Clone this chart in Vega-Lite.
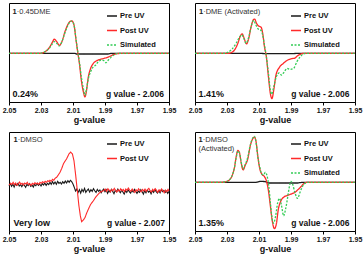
{
"$schema":"https://vega.github.io/schema/vega-lite/v6.json",
"padding":{"left":1,"top":2,"right":0,"bottom":0},
"background":"white",
"config":{"font":"Liberation Sans","view":{"stroke":"#000","strokeWidth":1},
"axisX":{"format":".2f","labelFontSize":7,"labelFontWeight":"bold","labelColor":"#111","tickSize":3,"tickColor":"#000","domainColor":"#000","grid":false,"labelPadding":1.5,"labelOverlap":false,"labelFlush":false,"labelBound":false,"titleFontSize":9,"titleFontWeight":"bold","titleColor":"#111","titlePadding":2},
"legend":{"symbolType":"stroke","symbolSize":100,"symbolStrokeWidth":1.4,"labelFontSize":7.5,"labelFontWeight":"bold","labelColor":"#111","rowPadding":4.5,"padding":0,"labelOffset":2}},
"datasets":{"spectra":[
{"p":1,"s":"Pre UV","g":2.05,"v":0},{"p":1,"s":"Pre UV","g":2.0094,"v":0},{"p":1,"s":"Pre UV","g":2.0073,"v":-2},{"p":1,"s":"Pre UV","g":1.9885,"v":-2},{"p":1,"s":"Pre UV","g":1.9854,"v":0},{"p":1,"s":"Pre UV","g":1.95,"v":0},
{"p":1,"s":"Post UV","g":2.05,"v":0},{"p":1,"s":"Post UV","g":2.039,"v":0},{"p":1,"s":"Post UV","g":2.0306,"v":0},{"p":1,"s":"Post UV","g":2.0285,"v":2},{"p":1,"s":"Post UV","g":2.0265,"v":8},{"p":1,"s":"Post UV","g":2.0244,"v":20},{"p":1,"s":"Post UV","g":2.0229,"v":33},{"p":1,"s":"Post UV","g":2.0217,"v":42},{"p":1,"s":"Post UV","g":2.0202,"v":35},{"p":1,"s":"Post UV","g":2.0185,"v":24},{"p":1,"s":"Post UV","g":2.0169,"v":35},{"p":1,"s":"Post UV","g":2.015,"v":65},{"p":1,"s":"Post UV","g":2.0133,"v":85},{"p":1,"s":"Post UV","g":2.0119,"v":95},{"p":1,"s":"Post UV","g":2.0108,"v":97},{"p":1,"s":"Post UV","g":2.0094,"v":85},{"p":1,"s":"Post UV","g":2.0081,"v":40},{"p":1,"s":"Post UV","g":2.0071,"v":5},{"p":1,"s":"Post UV","g":2.006,"v":-30},{"p":1,"s":"Post UV","g":2.0048,"v":-80},{"p":1,"s":"Post UV","g":2.0035,"v":-115},{"p":1,"s":"Post UV","g":2.0025,"v":-130},{"p":1,"s":"Post UV","g":2.0017,"v":-115},{"p":1,"s":"Post UV","g":2.0004,"v":-70},{"p":1,"s":"Post UV","g":1.999,"v":-45},{"p":1,"s":"Post UV","g":1.9973,"v":-30},{"p":1,"s":"Post UV","g":1.9952,"v":-22},{"p":1,"s":"Post UV","g":1.9931,"v":-18},{"p":1,"s":"Post UV","g":1.9906,"v":-15},{"p":1,"s":"Post UV","g":1.9885,"v":-12},{"p":1,"s":"Post UV","g":1.9865,"v":-8},{"p":1,"s":"Post UV","g":1.9844,"v":-3},{"p":1,"s":"Post UV","g":1.9823,"v":-1},{"p":1,"s":"Post UV","g":1.9785,"v":0},{"p":1,"s":"Post UV","g":1.95,"v":0},
{"p":1,"s":"Simulated","g":2.05,"v":0},{"p":1,"s":"Simulated","g":2.0306,"v":0},{"p":1,"s":"Simulated","g":2.0285,"v":3},{"p":1,"s":"Simulated","g":2.0265,"v":8},{"p":1,"s":"Simulated","g":2.0244,"v":18},{"p":1,"s":"Simulated","g":2.0229,"v":28},{"p":1,"s":"Simulated","g":2.0217,"v":35},{"p":1,"s":"Simulated","g":2.0202,"v":30},{"p":1,"s":"Simulated","g":2.0185,"v":22},{"p":1,"s":"Simulated","g":2.0169,"v":35},{"p":1,"s":"Simulated","g":2.015,"v":62},{"p":1,"s":"Simulated","g":2.0133,"v":82},{"p":1,"s":"Simulated","g":2.0119,"v":94},{"p":1,"s":"Simulated","g":2.0108,"v":96},{"p":1,"s":"Simulated","g":2.0094,"v":85},{"p":1,"s":"Simulated","g":2.0081,"v":42},{"p":1,"s":"Simulated","g":2.0071,"v":8},{"p":1,"s":"Simulated","g":2.006,"v":-25},{"p":1,"s":"Simulated","g":2.0048,"v":-70},{"p":1,"s":"Simulated","g":2.0035,"v":-105},{"p":1,"s":"Simulated","g":2.0025,"v":-125},{"p":1,"s":"Simulated","g":2.0017,"v":-110},{"p":1,"s":"Simulated","g":2.0004,"v":-75},{"p":1,"s":"Simulated","g":1.999,"v":-55},{"p":1,"s":"Simulated","g":1.9973,"v":-40},{"p":1,"s":"Simulated","g":1.9958,"v":-35},{"p":1,"s":"Simulated","g":1.9942,"v":-25},{"p":1,"s":"Simulated","g":1.9921,"v":-20},{"p":1,"s":"Simulated","g":1.9906,"v":-22},{"p":1,"s":"Simulated","g":1.9894,"v":-28},{"p":1,"s":"Simulated","g":1.9879,"v":-20},{"p":1,"s":"Simulated","g":1.9858,"v":-10},{"p":1,"s":"Simulated","g":1.9838,"v":-3},{"p":1,"s":"Simulated","g":1.9817,"v":0},{"p":1,"s":"Simulated","g":1.95,"v":0},

{"p":2,"s":"Pre UV","g":2.05,"v":0},{"p":2,"s":"Pre UV","g":2.01,"v":0},{"p":2,"s":"Pre UV","g":2.005,"v":-1},{"p":2,"s":"Pre UV","g":1.99,"v":-1},{"p":2,"s":"Pre UV","g":1.985,"v":0},{"p":2,"s":"Pre UV","g":1.95,"v":0},
{"p":2,"s":"Post UV","g":2.05,"v":0},{"p":2,"s":"Post UV","g":2.0295,"v":0},{"p":2,"s":"Post UV","g":2.0274,"v":2},{"p":2,"s":"Post UV","g":2.0253,"v":10},{"p":2,"s":"Post UV","g":2.0232,"v":30},{"p":2,"s":"Post UV","g":2.0218,"v":50},{"p":2,"s":"Post UV","g":2.0205,"v":58},{"p":2,"s":"Post UV","g":2.0193,"v":45},{"p":2,"s":"Post UV","g":2.0178,"v":28},{"p":2,"s":"Post UV","g":2.0164,"v":45},{"p":2,"s":"Post UV","g":2.0149,"v":80},{"p":2,"s":"Post UV","g":2.0135,"v":100},{"p":2,"s":"Post UV","g":2.0127,"v":102},{"p":2,"s":"Post UV","g":2.0116,"v":90},{"p":2,"s":"Post UV","g":2.0104,"v":82},{"p":2,"s":"Post UV","g":2.0087,"v":78},{"p":2,"s":"Post UV","g":2.0077,"v":60},{"p":2,"s":"Post UV","g":2.0066,"v":20},{"p":2,"s":"Post UV","g":2.0054,"v":-10},{"p":2,"s":"Post UV","g":2.0041,"v":-70},{"p":2,"s":"Post UV","g":2.0029,"v":-120},{"p":2,"s":"Post UV","g":2.0019,"v":-135},{"p":2,"s":"Post UV","g":2.0008,"v":-110},{"p":2,"s":"Post UV","g":1.9994,"v":-65},{"p":2,"s":"Post UV","g":1.9973,"v":-42},{"p":2,"s":"Post UV","g":1.9948,"v":-30},{"p":2,"s":"Post UV","g":1.9921,"v":-20},{"p":2,"s":"Post UV","g":1.9896,"v":-16},{"p":2,"s":"Post UV","g":1.9876,"v":-14},{"p":2,"s":"Post UV","g":1.9859,"v":-7},{"p":2,"s":"Post UV","g":1.9838,"v":-2},{"p":2,"s":"Post UV","g":1.9817,"v":0},{"p":2,"s":"Post UV","g":1.95,"v":0},
{"p":2,"s":"Simulated","g":2.05,"v":0},{"p":2,"s":"Simulated","g":2.0315,"v":0},{"p":2,"s":"Simulated","g":2.0295,"v":3},{"p":2,"s":"Simulated","g":2.027,"v":12},{"p":2,"s":"Simulated","g":2.0243,"v":30},{"p":2,"s":"Simulated","g":2.0222,"v":48},{"p":2,"s":"Simulated","g":2.0207,"v":55},{"p":2,"s":"Simulated","g":2.0195,"v":45},{"p":2,"s":"Simulated","g":2.0181,"v":30},{"p":2,"s":"Simulated","g":2.0166,"v":45},{"p":2,"s":"Simulated","g":2.0149,"v":80},{"p":2,"s":"Simulated","g":2.0133,"v":98},{"p":2,"s":"Simulated","g":2.012,"v":85},{"p":2,"s":"Simulated","g":2.0104,"v":72},{"p":2,"s":"Simulated","g":2.0087,"v":68},{"p":2,"s":"Simulated","g":2.0077,"v":55},{"p":2,"s":"Simulated","g":2.0066,"v":25},{"p":2,"s":"Simulated","g":2.0054,"v":-10},{"p":2,"s":"Simulated","g":2.0041,"v":-60},{"p":2,"s":"Simulated","g":2.0029,"v":-110},{"p":2,"s":"Simulated","g":2.0021,"v":-122},{"p":2,"s":"Simulated","g":2.0008,"v":-100},{"p":2,"s":"Simulated","g":1.9992,"v":-70},{"p":2,"s":"Simulated","g":1.9973,"v":-58},{"p":2,"s":"Simulated","g":1.9959,"v":-65},{"p":2,"s":"Simulated","g":1.9942,"v":-55},{"p":2,"s":"Simulated","g":1.9925,"v":-45},{"p":2,"s":"Simulated","g":1.9905,"v":-48},{"p":2,"s":"Simulated","g":1.9884,"v":-45},{"p":2,"s":"Simulated","g":1.9863,"v":-25},{"p":2,"s":"Simulated","g":1.9842,"v":-10},{"p":2,"s":"Simulated","g":1.9822,"v":-2},{"p":2,"s":"Simulated","g":1.9801,"v":0},{"p":2,"s":"Simulated","g":1.95,"v":0},

{"p":3,"s":"Pre UV","g":2.05,"v":-10},{"p":3,"s":"Pre UV","g":2.0492,"v":-4},{"p":3,"s":"Pre UV","g":2.0484,"v":-12},{"p":3,"s":"Pre UV","g":2.0476,"v":-6},{"p":3,"s":"Pre UV","g":2.0468,"v":-14},{"p":3,"s":"Pre UV","g":2.046,"v":-5},{"p":3,"s":"Pre UV","g":2.0452,"v":-9},{"p":3,"s":"Pre UV","g":2.0444,"v":-3},{"p":3,"s":"Pre UV","g":2.0436,"v":-11},{"p":3,"s":"Pre UV","g":2.0428,"v":-7},{"p":3,"s":"Pre UV","g":2.042,"v":-13},{"p":3,"s":"Pre UV","g":2.0412,"v":-5},{"p":3,"s":"Pre UV","g":2.0404,"v":-9},{"p":3,"s":"Pre UV","g":2.0396,"v":-15},{"p":3,"s":"Pre UV","g":2.0388,"v":-6},{"p":3,"s":"Pre UV","g":2.038,"v":-10},{"p":3,"s":"Pre UV","g":2.0372,"v":-4},{"p":3,"s":"Pre UV","g":2.0364,"v":-12},{"p":3,"s":"Pre UV","g":2.0356,"v":-8},{"p":3,"s":"Pre UV","g":2.0348,"v":-14},{"p":3,"s":"Pre UV","g":2.034,"v":-6},{"p":3,"s":"Pre UV","g":2.0332,"v":-10},{"p":3,"s":"Pre UV","g":2.0324,"v":-3},{"p":3,"s":"Pre UV","g":2.0316,"v":-9},{"p":3,"s":"Pre UV","g":2.0308,"v":-5},{"p":3,"s":"Pre UV","g":2.03,"v":-11},{"p":3,"s":"Pre UV","g":2.0292,"v":-4},{"p":3,"s":"Pre UV","g":2.0284,"v":-8},{"p":3,"s":"Pre UV","g":2.0276,"v":-2},{"p":3,"s":"Pre UV","g":2.0268,"v":-9},{"p":3,"s":"Pre UV","g":2.026,"v":-3},{"p":3,"s":"Pre UV","g":2.0252,"v":-7},{"p":3,"s":"Pre UV","g":2.0244,"v":0},{"p":3,"s":"Pre UV","g":2.0236,"v":-6},{"p":3,"s":"Pre UV","g":2.0228,"v":2},{"p":3,"s":"Pre UV","g":2.022,"v":-5},{"p":3,"s":"Pre UV","g":2.0212,"v":1},{"p":3,"s":"Pre UV","g":2.0204,"v":-6},{"p":3,"s":"Pre UV","g":2.0196,"v":3},{"p":3,"s":"Pre UV","g":2.0188,"v":-3},{"p":3,"s":"Pre UV","g":2.018,"v":0},{"p":3,"s":"Pre UV","g":2.0172,"v":-5},{"p":3,"s":"Pre UV","g":2.0164,"v":2},{"p":3,"s":"Pre UV","g":2.0156,"v":-3},{"p":3,"s":"Pre UV","g":2.0148,"v":4},{"p":3,"s":"Pre UV","g":2.014,"v":-2},{"p":3,"s":"Pre UV","g":2.0132,"v":5},{"p":3,"s":"Pre UV","g":2.0124,"v":0},{"p":3,"s":"Pre UV","g":2.0116,"v":6},{"p":3,"s":"Pre UV","g":2.0108,"v":2},{"p":3,"s":"Pre UV","g":2.01,"v":-5},{"p":3,"s":"Pre UV","g":2.0092,"v":-15},{"p":3,"s":"Pre UV","g":2.0084,"v":-26},{"p":3,"s":"Pre UV","g":2.0076,"v":-20},{"p":3,"s":"Pre UV","g":2.0068,"v":-30},{"p":3,"s":"Pre UV","g":2.006,"v":-22},{"p":3,"s":"Pre UV","g":2.0052,"v":-32},{"p":3,"s":"Pre UV","g":2.0044,"v":-21},{"p":3,"s":"Pre UV","g":2.0036,"v":-28},{"p":3,"s":"Pre UV","g":2.0028,"v":-18},{"p":3,"s":"Pre UV","g":2.002,"v":-30},{"p":3,"s":"Pre UV","g":2.0012,"v":-24},{"p":3,"s":"Pre UV","g":2.0004,"v":-20},{"p":3,"s":"Pre UV","g":1.9996,"v":-29},{"p":3,"s":"Pre UV","g":1.9988,"v":-22},{"p":3,"s":"Pre UV","g":1.998,"v":-27},{"p":3,"s":"Pre UV","g":1.9972,"v":-19},{"p":3,"s":"Pre UV","g":1.9964,"v":-25},{"p":3,"s":"Pre UV","g":1.9956,"v":-30},{"p":3,"s":"Pre UV","g":1.9948,"v":-21},{"p":3,"s":"Pre UV","g":1.994,"v":-27},{"p":3,"s":"Pre UV","g":1.9932,"v":-23},{"p":3,"s":"Pre UV","g":1.9924,"v":-31},{"p":3,"s":"Pre UV","g":1.9916,"v":-24},{"p":3,"s":"Pre UV","g":1.9908,"v":-20},{"p":3,"s":"Pre UV","g":1.99,"v":-28},{"p":3,"s":"Pre UV","g":1.9892,"v":-22},{"p":3,"s":"Pre UV","g":1.9884,"v":-33},{"p":3,"s":"Pre UV","g":1.9876,"v":-25},{"p":3,"s":"Pre UV","g":1.9868,"v":-29},{"p":3,"s":"Pre UV","g":1.986,"v":-21},{"p":3,"s":"Pre UV","g":1.9852,"v":-27},{"p":3,"s":"Pre UV","g":1.9844,"v":-34},{"p":3,"s":"Pre UV","g":1.9836,"v":-24},{"p":3,"s":"Pre UV","g":1.9828,"v":-28},{"p":3,"s":"Pre UV","g":1.982,"v":-20},{"p":3,"s":"Pre UV","g":1.9812,"v":-26},{"p":3,"s":"Pre UV","g":1.9804,"v":-31},{"p":3,"s":"Pre UV","g":1.9796,"v":-23},{"p":3,"s":"Pre UV","g":1.9788,"v":-29},{"p":3,"s":"Pre UV","g":1.978,"v":-35},{"p":3,"s":"Pre UV","g":1.9772,"v":-25},{"p":3,"s":"Pre UV","g":1.9764,"v":-30},{"p":3,"s":"Pre UV","g":1.9756,"v":-22},{"p":3,"s":"Pre UV","g":1.9748,"v":-28},{"p":3,"s":"Pre UV","g":1.974,"v":-32},{"p":3,"s":"Pre UV","g":1.9732,"v":-24},{"p":3,"s":"Pre UV","g":1.9724,"v":-29},{"p":3,"s":"Pre UV","g":1.9716,"v":-21},{"p":3,"s":"Pre UV","g":1.9708,"v":-27},{"p":3,"s":"Pre UV","g":1.97,"v":-33},{"p":3,"s":"Pre UV","g":1.9692,"v":-26},{"p":3,"s":"Pre UV","g":1.9684,"v":-30},{"p":3,"s":"Pre UV","g":1.9676,"v":-22},{"p":3,"s":"Pre UV","g":1.9668,"v":-28},{"p":3,"s":"Pre UV","g":1.966,"v":-35},{"p":3,"s":"Pre UV","g":1.9652,"v":-25},{"p":3,"s":"Pre UV","g":1.9644,"v":-31},{"p":3,"s":"Pre UV","g":1.9636,"v":-23},{"p":3,"s":"Pre UV","g":1.9628,"v":-29},{"p":3,"s":"Pre UV","g":1.962,"v":-26},{"p":3,"s":"Pre UV","g":1.9612,"v":-34},{"p":3,"s":"Pre UV","g":1.9604,"v":-24},{"p":3,"s":"Pre UV","g":1.9596,"v":-30},{"p":3,"s":"Pre UV","g":1.9588,"v":-22},{"p":3,"s":"Pre UV","g":1.958,"v":-28},{"p":3,"s":"Pre UV","g":1.9572,"v":-32},{"p":3,"s":"Pre UV","g":1.9564,"v":-25},{"p":3,"s":"Pre UV","g":1.9556,"v":-31},{"p":3,"s":"Pre UV","g":1.9548,"v":-22},{"p":3,"s":"Pre UV","g":1.954,"v":-28},{"p":3,"s":"Pre UV","g":1.9532,"v":-24},{"p":3,"s":"Pre UV","g":1.9524,"v":-30},{"p":3,"s":"Pre UV","g":1.9516,"v":-26},{"p":3,"s":"Pre UV","g":1.9508,"v":-33},{"p":3,"s":"Pre UV","g":1.95,"v":-27},
{"p":3,"s":"Post UV","g":2.05,"v":-8},{"p":3,"s":"Post UV","g":2.049,"v":-3},{"p":3,"s":"Post UV","g":2.0482,"v":-6},{"p":3,"s":"Post UV","g":2.0474,"v":0},{"p":3,"s":"Post UV","g":2.0466,"v":-7},{"p":3,"s":"Post UV","g":2.0458,"v":-2},{"p":3,"s":"Post UV","g":2.045,"v":-9},{"p":3,"s":"Post UV","g":2.0442,"v":-4},{"p":3,"s":"Post UV","g":2.0434,"v":1},{"p":3,"s":"Post UV","g":2.0426,"v":-6},{"p":3,"s":"Post UV","g":2.0418,"v":-3},{"p":3,"s":"Post UV","g":2.041,"v":-8},{"p":3,"s":"Post UV","g":2.0402,"v":-2},{"p":3,"s":"Post UV","g":2.0394,"v":-5},{"p":3,"s":"Post UV","g":2.0386,"v":0},{"p":3,"s":"Post UV","g":2.0378,"v":-7},{"p":3,"s":"Post UV","g":2.037,"v":-4},{"p":3,"s":"Post UV","g":2.0362,"v":-9},{"p":3,"s":"Post UV","g":2.0354,"v":-3},{"p":3,"s":"Post UV","g":2.0346,"v":-6},{"p":3,"s":"Post UV","g":2.0338,"v":-1},{"p":3,"s":"Post UV","g":2.033,"v":-5},{"p":3,"s":"Post UV","g":2.0322,"v":-2},{"p":3,"s":"Post UV","g":2.0314,"v":-6},{"p":3,"s":"Post UV","g":2.0306,"v":0},{"p":3,"s":"Post UV","g":2.0298,"v":-3},{"p":3,"s":"Post UV","g":2.029,"v":2},{"p":3,"s":"Post UV","g":2.0282,"v":-1},{"p":3,"s":"Post UV","g":2.0274,"v":3},{"p":3,"s":"Post UV","g":2.0266,"v":0},{"p":3,"s":"Post UV","g":2.0258,"v":5},{"p":3,"s":"Post UV","g":2.025,"v":2},{"p":3,"s":"Post UV","g":2.0244,"v":6},{"p":3,"s":"Post UV","g":2.0236,"v":3},{"p":3,"s":"Post UV","g":2.0228,"v":9},{"p":3,"s":"Post UV","g":2.022,"v":6},{"p":3,"s":"Post UV","g":2.0212,"v":12},{"p":3,"s":"Post UV","g":2.0202,"v":15},{"p":3,"s":"Post UV","g":2.0192,"v":22},{"p":3,"s":"Post UV","g":2.0181,"v":30},{"p":3,"s":"Post UV","g":2.017,"v":42},{"p":3,"s":"Post UV","g":2.016,"v":55},{"p":3,"s":"Post UV","g":2.015,"v":63},{"p":3,"s":"Post UV","g":2.014,"v":70},{"p":3,"s":"Post UV","g":2.0132,"v":78},{"p":3,"s":"Post UV","g":2.0125,"v":85},{"p":3,"s":"Post UV","g":2.0115,"v":90},{"p":3,"s":"Post UV","g":2.0104,"v":85},{"p":3,"s":"Post UV","g":2.0094,"v":65},{"p":3,"s":"Post UV","g":2.0083,"v":20},{"p":3,"s":"Post UV","g":2.0073,"v":-25},{"p":3,"s":"Post UV","g":2.0063,"v":-70},{"p":3,"s":"Post UV","g":2.0054,"v":-100},{"p":3,"s":"Post UV","g":2.0046,"v":-117},{"p":3,"s":"Post UV","g":2.0035,"v":-112},{"p":3,"s":"Post UV","g":2.0025,"v":-105},{"p":3,"s":"Post UV","g":2.0015,"v":-92},{"p":3,"s":"Post UV","g":2.0004,"v":-80},{"p":3,"s":"Post UV","g":1.999,"v":-66},{"p":3,"s":"Post UV","g":1.9973,"v":-55},{"p":3,"s":"Post UV","g":1.9958,"v":-44},{"p":3,"s":"Post UV","g":1.9942,"v":-35},{"p":3,"s":"Post UV","g":1.9926,"v":-28},{"p":3,"s":"Post UV","g":1.991,"v":-25},{"p":3,"s":"Post UV","g":1.9898,"v":-20},{"p":3,"s":"Post UV","g":1.989,"v":-27},{"p":3,"s":"Post UV","g":1.9882,"v":-19},{"p":3,"s":"Post UV","g":1.9874,"v":-23},{"p":3,"s":"Post UV","g":1.9866,"v":-28},{"p":3,"s":"Post UV","g":1.9858,"v":-21},{"p":3,"s":"Post UV","g":1.985,"v":-25},{"p":3,"s":"Post UV","g":1.9842,"v":-18},{"p":3,"s":"Post UV","g":1.9834,"v":-24},{"p":3,"s":"Post UV","g":1.9826,"v":-29},{"p":3,"s":"Post UV","g":1.9818,"v":-22},{"p":3,"s":"Post UV","g":1.981,"v":-26},{"p":3,"s":"Post UV","g":1.9802,"v":-19},{"p":3,"s":"Post UV","g":1.9794,"v":-25},{"p":3,"s":"Post UV","g":1.9786,"v":-21},{"p":3,"s":"Post UV","g":1.9778,"v":-28},{"p":3,"s":"Post UV","g":1.977,"v":-20},{"p":3,"s":"Post UV","g":1.9762,"v":-24},{"p":3,"s":"Post UV","g":1.9754,"v":-17},{"p":3,"s":"Post UV","g":1.9746,"v":-23},{"p":3,"s":"Post UV","g":1.9738,"v":-27},{"p":3,"s":"Post UV","g":1.973,"v":-20},{"p":3,"s":"Post UV","g":1.9722,"v":-25},{"p":3,"s":"Post UV","g":1.9714,"v":-30},{"p":3,"s":"Post UV","g":1.9706,"v":-22},{"p":3,"s":"Post UV","g":1.9698,"v":-26},{"p":3,"s":"Post UV","g":1.969,"v":-19},{"p":3,"s":"Post UV","g":1.9682,"v":-24},{"p":3,"s":"Post UV","g":1.9674,"v":-28},{"p":3,"s":"Post UV","g":1.9666,"v":-21},{"p":3,"s":"Post UV","g":1.9658,"v":-26},{"p":3,"s":"Post UV","g":1.965,"v":-20},{"p":3,"s":"Post UV","g":1.9642,"v":-27},{"p":3,"s":"Post UV","g":1.9634,"v":-22},{"p":3,"s":"Post UV","g":1.9626,"v":-18},{"p":3,"s":"Post UV","g":1.9618,"v":-25},{"p":3,"s":"Post UV","g":1.961,"v":-29},{"p":3,"s":"Post UV","g":1.9602,"v":-21},{"p":3,"s":"Post UV","g":1.9594,"v":-26},{"p":3,"s":"Post UV","g":1.9586,"v":-19},{"p":3,"s":"Post UV","g":1.9578,"v":-24},{"p":3,"s":"Post UV","g":1.957,"v":-30},{"p":3,"s":"Post UV","g":1.9562,"v":-22},{"p":3,"s":"Post UV","g":1.9554,"v":-27},{"p":3,"s":"Post UV","g":1.9546,"v":-20},{"p":3,"s":"Post UV","g":1.9538,"v":-25},{"p":3,"s":"Post UV","g":1.953,"v":-31},{"p":3,"s":"Post UV","g":1.9522,"v":-23},{"p":3,"s":"Post UV","g":1.9514,"v":-28},{"p":3,"s":"Post UV","g":1.9506,"v":-21},{"p":3,"s":"Post UV","g":1.95,"v":-26},

{"p":4,"s":"Pre UV","g":2.05,"v":0},{"p":4,"s":"Pre UV","g":2.012,"v":0},{"p":4,"s":"Pre UV","g":2.009,"v":3},{"p":4,"s":"Pre UV","g":2.006,"v":2},{"p":4,"s":"Pre UV","g":2.004,"v":-2},{"p":4,"s":"Pre UV","g":1.986,"v":-2},{"p":4,"s":"Pre UV","g":1.983,"v":0},{"p":4,"s":"Pre UV","g":1.95,"v":0},
{"p":4,"s":"Post UV","g":2.05,"v":0},{"p":4,"s":"Post UV","g":2.0336,"v":0},{"p":4,"s":"Post UV","g":2.0305,"v":2},{"p":4,"s":"Post UV","g":2.0284,"v":8},{"p":4,"s":"Post UV","g":2.0268,"v":20},{"p":4,"s":"Post UV","g":2.0253,"v":45},{"p":4,"s":"Post UV","g":2.0243,"v":75},{"p":4,"s":"Post UV","g":2.0232,"v":95},{"p":4,"s":"Post UV","g":2.0222,"v":88},{"p":4,"s":"Post UV","g":2.0212,"v":60},{"p":4,"s":"Post UV","g":2.0199,"v":37},{"p":4,"s":"Post UV","g":2.0187,"v":50},{"p":4,"s":"Post UV","g":2.017,"v":70},{"p":4,"s":"Post UV","g":2.0154,"v":110},{"p":4,"s":"Post UV","g":2.0139,"v":130},{"p":4,"s":"Post UV","g":2.0129,"v":135},{"p":4,"s":"Post UV","g":2.0118,"v":120},{"p":4,"s":"Post UV","g":2.0108,"v":80},{"p":4,"s":"Post UV","g":2.0095,"v":40},{"p":4,"s":"Post UV","g":2.0083,"v":25},{"p":4,"s":"Post UV","g":2.0066,"v":17},{"p":4,"s":"Post UV","g":2.0054,"v":5},{"p":4,"s":"Post UV","g":2.0041,"v":-25},{"p":4,"s":"Post UV","g":2.0029,"v":-70},{"p":4,"s":"Post UV","g":2.0017,"v":-115},{"p":4,"s":"Post UV","g":2.0004,"v":-138},{"p":4,"s":"Post UV","g":1.9992,"v":-125},{"p":4,"s":"Post UV","g":1.9979,"v":-80},{"p":4,"s":"Post UV","g":1.9963,"v":-55},{"p":4,"s":"Post UV","g":1.9942,"v":-43},{"p":4,"s":"Post UV","g":1.9917,"v":-38},{"p":4,"s":"Post UV","g":1.989,"v":-33},{"p":4,"s":"Post UV","g":1.9876,"v":-30},{"p":4,"s":"Post UV","g":1.9859,"v":-23},{"p":4,"s":"Post UV","g":1.9838,"v":-13},{"p":4,"s":"Post UV","g":1.9817,"v":-3},{"p":4,"s":"Post UV","g":1.9793,"v":0},{"p":4,"s":"Post UV","g":1.95,"v":0},
{"p":4,"s":"Simulated","g":2.05,"v":0},{"p":4,"s":"Simulated","g":2.0336,"v":0},{"p":4,"s":"Simulated","g":2.0305,"v":2},{"p":4,"s":"Simulated","g":2.0284,"v":8},{"p":4,"s":"Simulated","g":2.0268,"v":20},{"p":4,"s":"Simulated","g":2.0253,"v":45},{"p":4,"s":"Simulated","g":2.0243,"v":72},{"p":4,"s":"Simulated","g":2.0232,"v":93},{"p":4,"s":"Simulated","g":2.0222,"v":88},{"p":4,"s":"Simulated","g":2.0212,"v":62},{"p":4,"s":"Simulated","g":2.0199,"v":40},{"p":4,"s":"Simulated","g":2.0187,"v":52},{"p":4,"s":"Simulated","g":2.017,"v":75},{"p":4,"s":"Simulated","g":2.0154,"v":112},{"p":4,"s":"Simulated","g":2.0139,"v":132},{"p":4,"s":"Simulated","g":2.0129,"v":137},{"p":4,"s":"Simulated","g":2.0118,"v":118},{"p":4,"s":"Simulated","g":2.0108,"v":78},{"p":4,"s":"Simulated","g":2.0095,"v":45},{"p":4,"s":"Simulated","g":2.0083,"v":25},{"p":4,"s":"Simulated","g":2.0071,"v":22},{"p":4,"s":"Simulated","g":2.006,"v":30},{"p":4,"s":"Simulated","g":2.005,"v":20},{"p":4,"s":"Simulated","g":2.0039,"v":-10},{"p":4,"s":"Simulated","g":2.0029,"v":-60},{"p":4,"s":"Simulated","g":2.0019,"v":-105},{"p":4,"s":"Simulated","g":2.0008,"v":-122},{"p":4,"s":"Simulated","g":1.9996,"v":-100},{"p":4,"s":"Simulated","g":1.9983,"v":-60},{"p":4,"s":"Simulated","g":1.9971,"v":-48},{"p":4,"s":"Simulated","g":1.9959,"v":-70},{"p":4,"s":"Simulated","g":1.9946,"v":-100},{"p":4,"s":"Simulated","g":1.9934,"v":-80},{"p":4,"s":"Simulated","g":1.9921,"v":-45},{"p":4,"s":"Simulated","g":1.9911,"v":-15},{"p":4,"s":"Simulated","g":1.99,"v":3},{"p":4,"s":"Simulated","g":1.989,"v":-5},{"p":4,"s":"Simulated","g":1.9876,"v":-30},{"p":4,"s":"Simulated","g":1.9859,"v":-48},{"p":4,"s":"Simulated","g":1.9844,"v":-30},{"p":4,"s":"Simulated","g":1.9828,"v":-12},{"p":4,"s":"Simulated","g":1.9813,"v":-3},{"p":4,"s":"Simulated","g":1.9793,"v":0},{"p":4,"s":"Simulated","g":1.95,"v":0}
]},
"columns":2,
"bounds":"flush",
"spacing":{"row":30,"column":26},
"resolve":{"scale":{"color":"independent","strokeDash":"independent"},"legend":{"color":"independent","strokeDash":"independent"}},
"concat":[
{"width":160,"height":99,"layer":[
 {"data":{"name":"spectra"},"transform":[{"filter":"datum.p==1"}],"mark":{"type":"line","interpolate":"monotone","strokeWidth":1.3},
  "encoding":{
   "x":{"field":"g","type":"quantitative","scale":{"domain":[2.05,1.95],"nice":false,"zero":false},"axis":{"values":[2.05,2.03,2.01,1.99,1.97,1.95],"tickCount":12,"labelOverlap":false,"title":"g-value"}},
   "y":{"field":"v","type":"quantitative","scale":{"domain":[-145,150],"nice":false,"zero":false},"axis":null},
   "color":{"field":"s","type":"nominal","scale":{"domain":["Pre UV","Post UV","Simulated"],"range":["#1a1a1a","#ff2a2a","#33cc55"]},"legend":{"title":null,"orient":"none","legendX":97,"legendY":7}},
   "strokeDash":{"field":"s","type":"nominal","scale":{"domain":["Pre UV","Post UV","Simulated"],"range":[[1,0],[1,0],[2,1.5]]},"legend":{"title":null,"orient":"none","legendX":97,"legendY":7}}}},
 {"data":{"values":[{}]},"mark":{"type":"text","text":"1","align":"left","baseline":"middle","fontSize":7.5,"fontWeight":"bold","color":"#222"},"encoding":{"x":{"datum":2.0478,"type":"quantitative"},"y":{"datum":123,"type":"quantitative"}}},
 {"data":{"values":[{}]},"mark":{"type":"text","text":"·0.45DME","align":"left","baseline":"middle","fontSize":7.5,"dx":4.2,"color":"#333"},"encoding":{"x":{"datum":2.0478,"type":"quantitative"},"y":{"datum":123,"type":"quantitative"}}},
 {"data":{"values":[{}]},"mark":{"type":"text","text":"0.24%","align":"left","baseline":"middle","fontSize":9,"fontWeight":"bold","color":"#111"},"encoding":{"x":{"datum":2.0478,"type":"quantitative"},"y":{"datum":-121,"type":"quantitative"}}},
 {"data":{"values":[{}]},"mark":{"type":"text","text":"g value - 2.006","align":"right","baseline":"middle","fontSize":8.5,"fontWeight":"bold","color":"#111"},"encoding":{"x":{"datum":1.9531,"type":"quantitative"},"y":{"datum":-121,"type":"quantitative"}}}
]},
{"width":160,"height":99,"layer":[
 {"data":{"name":"spectra"},"transform":[{"filter":"datum.p==2"}],"mark":{"type":"line","interpolate":"monotone","strokeWidth":1.3},
  "encoding":{
   "x":{"field":"g","type":"quantitative","scale":{"domain":[2.05,1.95],"nice":false,"zero":false},"axis":{"values":[2.05,2.03,2.01,1.99,1.97,1.95],"tickCount":12,"labelOverlap":false,"title":"g-value"}},
   "y":{"field":"v","type":"quantitative","scale":{"domain":[-145,150],"nice":false,"zero":false},"axis":null},
   "color":{"field":"s","type":"nominal","scale":{"domain":["Pre UV","Post UV","Simulated"],"range":["#1a1a1a","#ff2a2a","#33cc55"]},"legend":{"title":null,"orient":"none","legendX":95,"legendY":7}},
   "strokeDash":{"field":"s","type":"nominal","scale":{"domain":["Pre UV","Post UV","Simulated"],"range":[[1,0],[1,0],[2,1.5]]},"legend":{"title":null,"orient":"none","legendX":95,"legendY":7}}}},
 {"data":{"values":[{}]},"mark":{"type":"text","text":"1","align":"left","baseline":"middle","fontSize":7.5,"fontWeight":"bold","color":"#222"},"encoding":{"x":{"datum":2.0475,"type":"quantitative"},"y":{"datum":123,"type":"quantitative"}}},
 {"data":{"values":[{}]},"mark":{"type":"text","text":"·DME (Activated)","align":"left","baseline":"middle","fontSize":7.5,"dx":4.2,"color":"#333"},"encoding":{"x":{"datum":2.0475,"type":"quantitative"},"y":{"datum":123,"type":"quantitative"}}},
 {"data":{"values":[{}]},"mark":{"type":"text","text":"1.41%","align":"left","baseline":"middle","fontSize":9,"fontWeight":"bold","color":"#111"},"encoding":{"x":{"datum":2.0478,"type":"quantitative"},"y":{"datum":-121,"type":"quantitative"}}},
 {"data":{"values":[{}]},"mark":{"type":"text","text":"g value - 2.006","align":"right","baseline":"middle","fontSize":8.5,"fontWeight":"bold","color":"#111"},"encoding":{"x":{"datum":1.9535,"type":"quantitative"},"y":{"datum":-121,"type":"quantitative"}}}
]},
{"width":160,"height":99,"layer":[
 {"data":{"name":"spectra"},"transform":[{"filter":"datum.p==3"}],"mark":{"type":"line","interpolate":"linear","strokeWidth":1.1},
  "encoding":{
   "x":{"field":"g","type":"quantitative","scale":{"domain":[2.05,1.95],"nice":false,"zero":false},"axis":{"values":[2.05,2.03,2.01,1.99,1.97,1.95],"tickCount":12,"labelOverlap":false,"title":"g-value"}},
   "y":{"field":"v","type":"quantitative","scale":{"domain":[-145,150],"nice":false,"zero":false},"axis":null},
   "color":{"field":"s","type":"nominal","scale":{"domain":["Pre UV","Post UV"],"range":["#1a1a1a","#ff2a2a"]},"legend":{"title":null,"orient":"none","legendX":97,"legendY":6}},
   "strokeDash":{"field":"s","type":"nominal","scale":{"domain":["Pre UV","Post UV"],"range":[[1,0],[1,0]]},"legend":{"title":null,"orient":"none","legendX":97,"legendY":6}}}},
 {"data":{"values":[{}]},"mark":{"type":"text","text":"1","align":"left","baseline":"middle","fontSize":7.5,"fontWeight":"bold","color":"#222"},"encoding":{"x":{"datum":2.0472,"type":"quantitative"},"y":{"datum":126,"type":"quantitative"}}},
 {"data":{"values":[{}]},"mark":{"type":"text","text":"·DMSO","align":"left","baseline":"middle","fontSize":7.5,"dx":4.2,"color":"#333"},"encoding":{"x":{"datum":2.0472,"type":"quantitative"},"y":{"datum":126,"type":"quantitative"}}},
 {"data":{"values":[{}]},"mark":{"type":"text","text":"Very low","align":"left","baseline":"middle","fontSize":9,"fontWeight":"bold","color":"#111"},"encoding":{"x":{"datum":2.0472,"type":"quantitative"},"y":{"datum":-121,"type":"quantitative"}}},
 {"data":{"values":[{}]},"mark":{"type":"text","text":"g value - 2.007","align":"right","baseline":"middle","fontSize":8.5,"fontWeight":"bold","color":"#111"},"encoding":{"x":{"datum":1.9525,"type":"quantitative"},"y":{"datum":-121,"type":"quantitative"}}}
]},
{"width":160,"height":99,"layer":[
 {"data":{"name":"spectra"},"transform":[{"filter":"datum.p==4"}],"mark":{"type":"line","interpolate":"monotone","strokeWidth":1.3},
  "encoding":{
   "x":{"field":"g","type":"quantitative","scale":{"domain":[2.05,1.95],"nice":false,"zero":false},"axis":{"values":[2.05,2.03,2.01,1.99,1.97,1.95],"tickCount":12,"labelOverlap":false,"title":"g-value"}},
   "y":{"field":"v","type":"quantitative","scale":{"domain":[-145,150],"nice":false,"zero":false},"axis":null},
   "color":{"field":"s","type":"nominal","scale":{"domain":["Pre UV","Post UV","Simulated"],"range":["#1a1a1a","#ff2a2a","#33cc55"]},"legend":{"title":null,"orient":"none","legendX":95,"legendY":6}},
   "strokeDash":{"field":"s","type":"nominal","scale":{"domain":["Pre UV","Post UV","Simulated"],"range":[[1,0],[1,0],[2,1.5]]},"legend":{"title":null,"orient":"none","legendX":95,"legendY":6}}}},
 {"data":{"values":[{}]},"mark":{"type":"text","text":"1","align":"left","baseline":"middle","fontSize":7.5,"fontWeight":"bold","color":"#222"},"encoding":{"x":{"datum":2.0478,"type":"quantitative"},"y":{"datum":125,"type":"quantitative"}}},
 {"data":{"values":[{}]},"mark":{"type":"text","text":"·DMSO","align":"left","baseline":"middle","fontSize":7.5,"dx":4.2,"color":"#333"},"encoding":{"x":{"datum":2.0478,"type":"quantitative"},"y":{"datum":125,"type":"quantitative"}}},
 {"data":{"values":[{}]},"mark":{"type":"text","text":"(Activated)","align":"left","baseline":"middle","fontSize":7.5,"color":"#333"},"encoding":{"x":{"datum":2.0478,"type":"quantitative"},"y":{"datum":100,"type":"quantitative"}}},
 {"data":{"values":[{}]},"mark":{"type":"text","text":"1.35%","align":"left","baseline":"middle","fontSize":9,"fontWeight":"bold","color":"#111"},"encoding":{"x":{"datum":2.0478,"type":"quantitative"},"y":{"datum":-121,"type":"quantitative"}}},
 {"data":{"values":[{}]},"mark":{"type":"text","text":"g value - 2.006","align":"right","baseline":"middle","fontSize":8.5,"fontWeight":"bold","color":"#111"},"encoding":{"x":{"datum":1.9535,"type":"quantitative"},"y":{"datum":-121,"type":"quantitative"}}}
]}
]
}
